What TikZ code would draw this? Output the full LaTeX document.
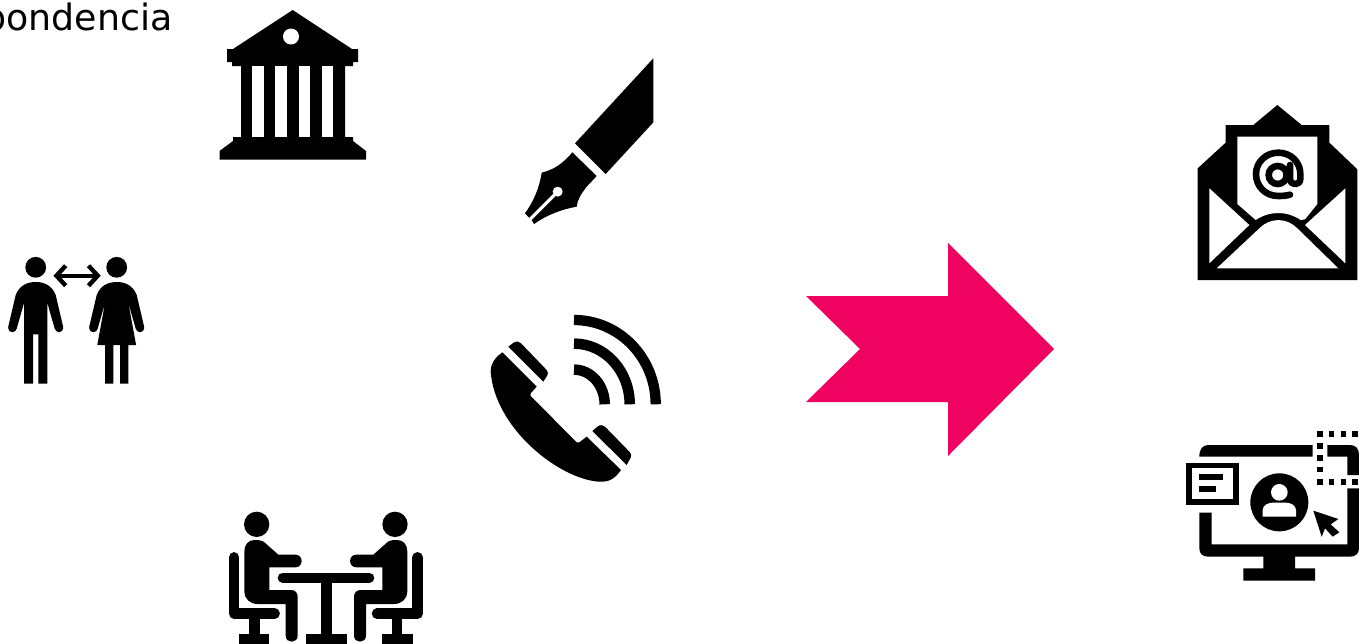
\documentclass[tikz,border=0pt]{standalone}
\usepackage{fontspec}
\setmainfont{DejaVu Sans}
\definecolor{accent}{HTML}{F00360}
\newcommand{\seatedperson}{%
  \fill[black] (125,73) circle (38);
  \fill[black] (118,120) .. controls (100,120) and (88,134) .. (88,155) -- (88,275) .. controls (88,296) and (105,312) .. (128,312) -- (212,312) -- (212,407) .. controls (212,431) and (248,431) .. (248,407) -- (248,290) .. controls (248,278) and (240,270) .. (228,270) -- (163,270) -- (163,202) -- (241,202) .. controls (266,202) and (266,164) .. (241,164) -- (190,164) -- (155,133) .. controls (147,125) and (140,120) .. (130,120) -- cycle;
  \draw[black,line width=10.5pt,line cap=round,line join=round] (57,172) -- (57,341) -- (179,341);
  \draw[black,line width=10.5pt] (119,341) -- (119,405);
  \fill[black] (72,403) rectangle (163,433);
}
\newcommand{\figuretop}{%
  (0,282) .. controls (-8,282) and (-16,285) .. (-20,295) -- (-27.5,327) -- (-19.1,329) -- (-11.7,303)
}
\newcommand{\figureend}{%
  (11.7,303) -- (19.1,329) -- (27.5,327) -- (20,295) .. controls (16,285) and (8,282) .. (0,282) -- cycle
}
\tikzset{
  ink/.style={fill=black,draw=none},
  paper/.style={fill=white,draw=none},
  wave/.style={draw=black,line width=10.5pt,line cap=butt}
}
\begin{document}
\begin{tikzpicture}[x=1pt,y=-1pt]
\useasboundingbox (0,0) rectangle (1359,643);
\fill[white] (0,0) rectangle (1359,643);
\node[anchor=base east,inner sep=0pt,font=\fontsize{36.3}{40}\selectfont] (title) at (172.6,30) {pondencia};

% bank
\path[ink] (292.7,10) -- (352,49) -- (358,49) -- (358,62) -- (353,62) -- (353,66) -- (345,66) -- (345,137) -- (353,137) -- (353,141) -- (366,151) -- (366,159.5) -- (219.5,159.5) -- (219.5,151) -- (233,141) -- (233,137) -- (241,137) -- (241,66) -- (232,66) -- (232,62) -- (227,62) -- (227,49) -- (233,49) -- cycle;
\path[paper] (291,36.5) circle (8);
\path[paper] (252.3,66) rectangle (264,137);
\path[paper] (275.3,66) rectangle (287,137);
\path[paper] (298.7,66) rectangle (310.3,137);
\path[paper] (321.7,66) rectangle (333.3,137);

% man
\begin{scope}[shift={(35.7,0)}]
  \fill (0,267.3) circle (10.4);
  \path[ink] \figuretop -- (-11.7,383.7) -- (-2.7,383.7) -- (-2.7,334.3) -- (2.7,334.3) -- (2.7,383.7) -- (11.7,383.7) -- \figureend;
  \fill (-23.3,328) circle (4.25);
  \fill (23.3,328) circle (4.25);
\end{scope}
% woman
\begin{scope}[shift={(116.7,0)}]
  \fill (0,267.3) circle (10.4);
  \path[ink] \figuretop -- (-19.4,345) -- (-11.7,345) -- (-11.7,383.7) -- (-3.4,383.7) -- (-3.4,345) -- (3.4,345) -- (3.4,383.7) -- (11.7,383.7) -- (11.7,345) -- (19.4,345) -- \figureend;
  \fill (-23.3,328) circle (4.25);
  \fill (23.3,328) circle (4.25);
\end{scope}
% double arrow
\draw[black,line width=4.4pt,miter limit=4] (65.7,265.7) -- (56.5,275.7) -- (65.7,285.7);
\draw[black,line width=4.4pt,miter limit=4] (88.5,265.7) -- (97.7,275.7) -- (88.5,285.7);
\draw[black,line width=4.2pt] (57,275.7) -- (97,275.7);

% meeting
\begin{scope}[shift={(215,500)},x=0.33333pt,y=-0.33333pt]
  \seatedperson
  \draw[black,line width=10pt,line cap=round] (203,233) -- (463,233);
  \fill[black] (317,240) rectangle (350,405);
  \fill[black] (272,403) rectangle (395,433);
\end{scope}
\begin{scope}[shift={(436.67,500)},x=-0.33333pt,y=-0.33333pt]
  \seatedperson
\end{scope}

% pen
\begin{scope}[shift={(480,50)},x=0.33333pt,y=-0.33333pt]
  \path[ink] (520,25) -- (520,217) -- (377,372) -- (285,280) -- cycle;
  \path[ink] (277,307) -- (350,378) -- (320,410) .. controls (305,430) and (292,448) .. (290,470) .. controls (245,478) and (200,495) .. (162,522) -- (155,510) -- (147,503) -- (135,490) .. controls (160,455) and (178,415) .. (185,368) .. controls (220,360) and (250,340) .. (277,307) -- cycle;
  \draw[white,line width=3.2pt] (233,425) -- (150,508);
  \fill[white] (233,425) circle (15);
\end{scope}

% phone
\begin{scope}[shift={(480,305)},x=0.33333pt,y=-0.33333pt]
  \path[ink] (67,142) -- (170,245) -- (152,265) -- (152,273) -- (290,412) -- (298,412) -- (320,395) -- (423,495) .. controls (405,520) and (390,532) .. (355,530) .. controls (235,520) and (45,370) .. (32,200) .. controls (32,175) and (45,158) .. (67,142) -- cycle;
  \path[ink] (85,125) -- (102,112) .. controls (108,107) and (118,109) .. (123,115) -- (200,195) .. controls (205,200) and (204,206) .. (202,211) -- (190,230) -- cycle;
  \path[ink] (337,378) -- (352,365) .. controls (360,358) and (370,360) .. (375,365) -- (450,442) .. controls (455,447) and (454,453) .. (452,458) -- (440,480) -- cycle;
\end{scope}
\draw[wave,line width=10.3pt] (574,320) arc[start angle=-90,end angle=0,x radius=81.7,y radius=84.3];
\draw[wave] (574,343.6) arc[start angle=-90,end angle=0,x radius=55.7,y radius=60.7];
\draw[wave] (574,369.6) arc[start angle=-90,end angle=0,x radius=30.7,y radius=34.7];

% big arrow
\path[fill=accent] (806,296) -- (948,296) -- (948,243) -- (1054,349) -- (948,456) -- (948,402) -- (806,402) -- (860,349) -- cycle;

% envelope
\begin{scope}[shift={(1190,100)},x=0.33333pt,y=-0.33333pt]
  \path[ink] (262,15) -- (335,75) -- (418,75) -- (418,128) -- (502,208) -- (502,540) -- (23,540) -- (23,205) -- (107,128) -- (107,75) -- (190,75) -- cycle;
  \path[paper] (142,110) -- (382,110) -- (382,312) -- (345,358) -- (332,360) .. controls (290,332) and (240,332) .. (197,360) -- (142,312) -- cycle;
  \path[paper] (58,265) -- (178,375) -- (58,490) -- cycle;
  \path[paper] (466,265) -- (345,375) -- (466,490) -- cycle;
  \path[paper] (80,505) -- (208,385) .. controls (240,352) and (290,352) .. (322,385) -- (445,505) -- cycle;
  \draw[black,line width=6.6pt,line cap=round,line join=round] (300,284) .. controls (290,287) and (278,288) .. (265,288) .. controls (225,288) and (198,258) .. (198,222) .. controls (198,186) and (228,158) .. (265,158) .. controls (302,158) and (331,186) .. (331,222) -- (331,236) .. controls (331,258) and (300,258) .. (300,236) -- (300,195);
  \draw[black,line width=6.6pt] (263,225) circle (27);
\end{scope}

% monitor
\begin{scope}[shift={(1180,425)},x=0.33333pt,y=-0.33333pt]
  \path[ink] (58,95) .. controls (58,72) and (68,60) .. (85,60) -- (398,60) -- (398,95) -- cycle;
  \path[ink] (442,60) -- (510,60) .. controls (528,60) and (537,72) .. (537,90) -- (537,150) -- (502,150) -- (502,95) -- (442,95) -- cycle;
  \path[ink] (537,190) -- (537,370) .. controls (537,386) and (526,395) .. (510,395) -- (345,395) -- (345,430) -- (405,430) -- (405,467) -- (190,467) -- (190,430) -- (250,430) -- (250,395) -- (85,395) .. controls (68,395) and (58,386) .. (58,370) -- (58,263) -- (95,263) -- (95,358) -- (502,358) -- (502,190) -- cycle;
  \foreach \q in {412,447,482,517} {
    \fill[black] (\q,18) rectangle ++(16,17);
    \fill[black] (\q,162) rectangle ++(16,17);
  }
  \foreach \q in {55,90,125} {
    \fill[black] (412,\q) rectangle ++(16,17);
  }
  \path[ink] (18,113) rectangle (178,240);
  \path[paper] (36,130) rectangle (160,222);
  \path[ink] (58,147) rectangle (130,165);
  \path[ink] (58,183) rectangle (108,200);
  \path[ink] (298,232) circle (87);
  \path[paper] (298,202) circle (25);
  \path[paper] (248,275) -- (348,275) -- (348,255) .. controls (348,240) and (330,233) .. (318,233) -- (278,233) .. controls (266,233) and (248,240) .. (248,255) -- cycle;
  \path[ink] (400,257) -- (475,282) -- (452,298) -- (478,322) -- (458,335) -- (435,310) -- (425,335) -- cycle;
\end{scope}
\end{tikzpicture}
\end{document}
